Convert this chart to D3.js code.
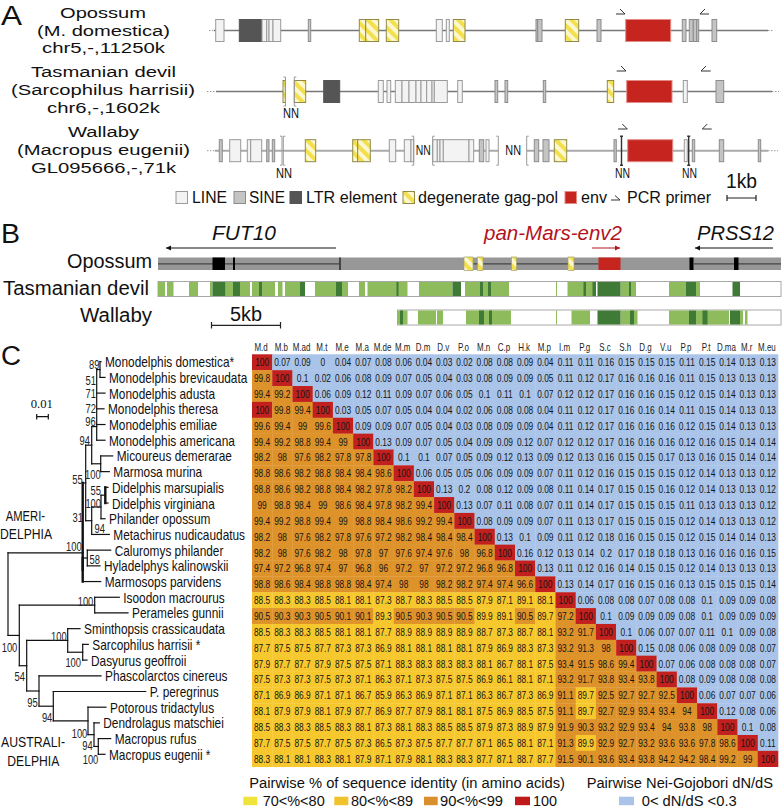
<!DOCTYPE html>
<html><head><meta charset="utf-8">
<script src="https://cdn.jsdelivr.net/npm/d3@7"></script>
<style>html,body{margin:0;padding:0;background:#fff}svg{display:block}</style>
</head><body><div id="chart"></div>
<script>
// ---------- Panel C matrix data ----------
const species = ["M.d","M.b","M.ad","M.t","M.e","M.a","M.de","M.m","D.m","D.v","P.o","M.n","C.p","H.k","M.p","I.m","P.g","S.c","S.h","D.g","V.u","P.p","P.t","D.ma","M.r","M.eu"];
const pairwiseRows = [
[100,.07,.09,0,.04,.07,.08,.06,.04,.03,.02,.08,.08,.09,.04,.11,.11,.16,.15,.15,.15,.11,.15,.14,.13,.13],
[99.8,100,.1,.02,.06,.08,.09,.07,.05,.04,.03,.08,.09,.09,.05,.11,.12,.17,.16,.16,.16,.11,.15,.13,.13,.13],
[99.4,99.2,100,.06,.09,.12,.11,.09,.07,.06,.05,.1,.11,.1,.07,.12,.12,.17,.16,.16,.15,.12,.15,.14,.13,.13],
[100,99.8,99.4,100,.03,.05,.07,.05,.04,.04,.02,.06,.08,.08,.04,.11,.12,.17,.16,.16,.14,.11,.15,.14,.13,.13],
[99.6,99.4,99,99.6,100,.09,.09,.07,.05,.04,.03,.08,.09,.09,.04,.11,.12,.17,.16,.16,.16,.12,.15,.14,.13,.13],
[99.4,99.2,98.8,99.4,99,100,.13,.09,.07,.05,.04,.09,.09,.12,.07,.12,.12,.17,.16,.16,.16,.12,.16,.15,.14,.14],
[98.2,98,97.6,98.2,97.8,97.8,100,.1,.1,.07,.05,.09,.12,.13,.09,.12,.13,.16,.15,.15,.17,.13,.16,.15,.14,.14],
[98.8,98.6,98.2,98.8,98.4,98.4,98.6,100,.06,.05,.05,.06,.09,.09,.07,.11,.12,.16,.15,.15,.15,.12,.14,.13,.13,.12],
[98.8,98.6,98.2,98.8,98.4,98.2,97.8,98.2,100,.13,.2,.08,.12,.09,.08,.11,.14,.17,.15,.15,.16,.12,.14,.13,.13,.12],
[99,98.8,98.4,99,98.6,98.4,97.8,98.2,99.4,100,.13,.07,.11,.08,.07,.11,.14,.17,.15,.15,.15,.11,.13,.13,.13,.12],
[99.4,99.2,98.8,99.4,99,98.8,98.4,98.6,99.2,99.4,100,.08,.09,.09,.07,.11,.13,.17,.15,.15,.15,.12,.14,.13,.13,.12],
[98.2,98,97.6,98.2,97.8,97.6,97.2,98.2,98.4,98.4,98.4,100,.13,.1,.09,.11,.12,.18,.16,.15,.15,.12,.15,.14,.14,.13],
[98.2,98,97.6,98.2,98,97.8,97,97.6,97.4,97.6,98,96.8,100,.16,.12,.13,.14,.2,.17,.18,.18,.13,.16,.16,.16,.15],
[97.4,97.2,96.8,97.4,97,96.8,96,97.2,97,97.2,97.2,96.8,96.8,100,.13,.11,.12,.16,.14,.15,.15,.12,.14,.13,.13,.13],
[98.8,98.6,98.4,98.8,98.8,98.4,97.4,98,98,98.2,98.2,97.4,97.4,96.6,100,.13,.14,.17,.16,.15,.16,.13,.15,.15,.15,.14],
[88.5,88.3,88.3,88.5,88.1,88.1,87.3,88.7,88.3,88.5,88.5,87.9,87.1,89.1,88.1,100,.06,.08,.08,.07,.08,.08,.1,.09,.09,.08],
[90.5,90.3,90.3,90.5,90.1,90.1,89.3,90.5,90.3,90.5,90.5,89.9,89.1,90.5,89.7,97.2,100,.1,.09,.09,.09,.08,.1,.09,.09,.09],
[88.5,88.3,88.3,88.5,88.1,88.1,87.7,88.9,88.9,88.9,88.9,88.7,87.3,88.7,88.1,93.2,91.7,100,.1,.06,.07,.07,.11,.1,.09,.08],
[87.7,87.5,87.5,87.7,87.3,87.3,86.9,88.1,88.1,88.1,88.1,87.9,86.9,88.3,87.3,93.2,91.3,98,100,.15,.08,.06,.08,.09,.08,.07],
[87.9,87.7,87.7,87.9,87.5,87.5,87.1,88.3,88.3,88.3,88.3,88.1,86.7,88.1,87.5,93.4,91.5,98.6,99.4,100,.07,.06,.08,.08,.08,.07],
[87.5,87.3,87.3,87.5,87.3,87.1,86.3,87.1,87.3,87.5,87.5,86.9,86.1,88.1,87.1,93.2,91.7,93.8,93.4,93.8,100,.08,.09,.08,.08,.08],
[87.1,86.9,86.9,87.1,87.1,86.7,85.9,86.3,86.9,87.1,87.1,86.3,86.7,87.3,86.9,91.1,89.7,92.5,92.7,92.7,92.5,100,.06,.07,.07,.06],
[88.1,87.9,87.9,88.1,87.9,87.7,86.9,87.7,87.9,88.1,88.1,87.5,86.9,88.5,87.5,91.1,89.7,92.7,92.9,93.4,93.4,94,100,.12,.08,.06],
[88.5,88.3,88.3,88.5,88.3,88.1,87.3,88.1,88.3,88.5,88.5,87.9,87.3,88.9,87.9,91.9,90.3,93.2,92.9,93.4,94,93.8,98,100,.1,.08],
[87.7,87.5,87.5,87.7,87.5,87.3,86.5,87.3,87.5,87.7,87.7,87.1,86.5,88.1,87.1,91.3,89.9,92.9,92.7,93.2,93.6,93.6,97.8,98.6,100,.11],
[88.3,88.1,88.1,88.3,88.1,87.9,87.1,87.9,88.1,88.3,88.3,87.7,87.1,88.7,87.7,91.5,90.1,93.6,93.4,93.8,94.2,94.2,98.4,99.2,99,100]
];

// ---------- Panel C tree data: id, parent, cumulative divergence (1160 units = 0.1 subst/site) ----------
const treeIds = ["root","ameri","cladeB","cladeN1","mono","mono1","Monodelphis domestica*","Monodelphis brevicaudata","Monodelphis adusta","Monodelphis theresa","Monodelphis emiliae","Monodelphis americana","marmo","Micoureus demerarae","Marmosa murina","cladeN2","cladeN3","didel","Didelphis marsupialis","Didelphis virginiana","Philander opossum","Metachirus nudicaudatus","ameri2","calu","Caluromys philander","Hyladelphys kalinowskii","Marmosops parvidens","austral","peram","Isoodon macrourus","Perameles gunnii","cladeN5","dasy","Sminthopsis crassicaudata","dasy2","Sarcophilus harrisii *","Dasyurus geoffroii","dipro","Phascolarctos cinereus","dipro2","P. peregrinus","macro","Potorous tridactylus","macro2","Dendrolagus matschiei","macro3","Macropus rufus","Macropus eugenii *"];
const treeParents = [null,"root","ameri","cladeB","cladeN1","mono","mono1","mono1","mono","mono","mono","mono","cladeN1","marmo","marmo","cladeB","cladeN2","cladeN3","didel","didel","cladeN3","cladeN2","ameri","ameri2","calu","calu","ameri2","root","austral","peram","peram","austral","cladeN5","dasy","dasy","dasy2","dasy2","cladeN5","dipro","dipro","dipro2","dipro2","macro","macro","macro2","macro2","macro3","macro3"];
const treeDepths = [0,74.7,77.7,83.7,88.7,92,93,97,97,96,97,97,92.7,104.7,101.3,83.7,93,97.3,100,100,97,101.3,74.7,79.3,102.7,92,92.7,11.3,86.7,111.3,120,18.7,59.7,72,74.7,80.3,79,31,93,45.3,137.7,80,98,86,91.3,90.3,102.7,97];
const treeRowOverride = {ameri:12.17, mono:4.13};
const treeThick = ["ameri","ameri2","didel"];
const supportLabels = [["89",99.5,364],["51",96,380],["71",96,393],["72",96,408],["96",95.7,421],["94",90,440],["55",82.7,479.3],["100",100.7,474],["55",101,490],["100",101,503],["31",83,517],["94",105,528],["100",81.7,546.7],["58",100,559],["100",93.3,601],["100",17.3,647.3],["100",66.7,636],["100",81,662],["54",25,676.7],["95",37.7,702],["94",52.3,717.3],["100",87.3,733],["94",92.7,745],["100",98.3,759]];

// ---------- Panel A data: element type, start, end (locus units, 29 units = 1 kb) ----------
const opossumElements = [["LINE",1.7,10],["LTR",25.3,48],["LINE",48,52.7],["LINE",52.7,55],["LINE",55,59],["LINE",59,66.7],["SINE",94.3,96.7],["GAG",145.3,151.7],["GAG",151.7,164.7],["GAG",172.3,184.7],["LINE",222.3,228.3],["LINE",232.3,235.3],["GAG",239.3,251],["SINE",322,323.7],["SINE",323.7,328],["GAG",351.3,364.7],["SINE",383,387],["ENV",411.7,456.7],["SINE",468.3,472],["SINE",475.3,479.3],["SINE",479.3,482.7],["SINE",482.7,484.7],["SINE",498,502.7]];
const devilElements = [["GAG",69,71.3],["GAG",80.3,91.7],["LTR",109.7,125.7],["LINE",164.3,169.3],["LINE",173,176.7],["LINE",181.3,188],["LINE",188,195],["LINE",195,202],["LINE",202,207],["LINE",207,212.7],["LINE",212.7,218],["LINE",218,220.3],["LINE",220.3,233.3],["LINE",243.7,248.3],["SINE",281,283.7],["SINE",291,293.7],["SINE",329.3,331.7],["GAG",393.3,399.7],["ENV",412.7,458],["LINE",469.3,473.3],["SINE",502,509.7]];
const wallabyElements = [["SINE",5.3,8.3],["LINE",15.7,26.7],["LINE",33.3,36.7],["LINE",36.7,47.7],["SINE",52.7,55],["SINE",58.3,60.7],["GAG",91.3,101.7],["GAG",138.7,143.7],["GAG",143.7,156.3],["LINE",175.3,181.7],["LINE",190.3,197],["LINE",197,199.7],["LINE",218.7,223.3],["LINE",223.3,226],["LINE",226,229.3],["LINE",229.3,255],["LINE",255,259.7],["SINE",265.3,269.7],["LINE",272,275],["SINE",320.3,324.7],["SINE",329,335],["GAG",340.3,352.7],["SINE",400,402.3],["ENV",413.7,458.7],["LINE",470.3,473.3],["SINE",478.3,480.7],["SINE",505.3,509.7],["SINE",544.3,546.7]];
const opossumSpans = [[0,554]];
const devilSpans = [[2,71.3],[80.3,558]];
const wallabySpans = [[1,199.7],[218.7,284.3],[312.7,554]];
const opossumDots = [[-5,0],[554,559]];
const devilDots = [[-7,2],[558,565]];
const wallabyDots = [[-7,1],[554,564]];
const devilBrackets = [[71.5,"]"],[80.3,"["]];
const wallabyBrackets = [[68,"]"],[69.3,"["],[199.7,"]"],[218.7,"["],[284.3,"]"],[312.7,"["],[407.5,"I"],[474.7,"I"]];
const opossumPrimers = [402,411,486,495];
const devilPrimers = [402.7,412,487,496.7];
const wallabyPrimers = [404,413.3,488.3,497.7];

// ---------- Panel B data: alignment bins (138 bins = 5 kb) ----------
const opossumBackbone = [[316,680],[946,1197],[1388,1562]];
const opossumExons = [[425,450],[466,470],[678,682],[1379,1387],[1468,1477]];
const opossumGag = [[928,946],[955,966],[1023,1033],[1136,1148]];
const opossumEnv = [[1197,1241]];
const devilLight = [[316,330],[334,347],[378,396],[420,425],[451,466],[480,500],[504,518],[524,550],[556,565],[570,600],[630,672],[684,696],[718,730],[735,815],[838,905],[930,1018],[1112,1114],[1135,1192],[1241,1272],[1338,1372],[1392,1400]];
const devilDark = [[425,451],[466,480],[518,524],[600,610],[672,684],[793,797],[905,922],[960,966],[976,982],[1167,1172],[1185,1192],[1195,1241],[1258,1262],[1372,1392],[1465,1480]];
const wallabyLight = [[795,815],[836,872],[874,886],[932,1022],[1112,1114],[1143,1180],[1241,1275],[1338,1378],[1392,1458],[1480,1486],[1490,1495]];
const wallabyDark = [[800,806],[958,968],[978,984],[1195,1241],[1260,1268],[1378,1392],[1405,1415],[1460,1480]];

// ---------- Legend text ----------
const identityLegend = ["70<%<80","80<%<89","90<%<99","100"];
const dndsLegend = ["0< dN/dS <0.3"];

const W = 782, H = 810;
const SANS = "'Liberation Sans',Arial,sans-serif";
const svg = d3.select("#chart").append("svg").attr("width",W).attr("height",H).attr("viewBox",`0 0 ${W} ${H}`);
svg.append("rect").attr("width",W).attr("height",H).attr("fill","#fff");

const defs = svg.append("defs");
const pat = defs.append("pattern").attr("id","gag").attr("patternUnits","userSpaceOnUse")
  .attr("width",8).attr("height",8).attr("patternTransform","rotate(45)");
pat.append("rect").attr("width",8).attr("height",8).attr("fill","#fbf7d0");
pat.append("rect").attr("width",8).attr("height",4).attr("fill","#f3e04c");

function fit(x0,x1,y,str,size,o={}){
  return svg.append("text").attr("x",x0).attr("y",y).text(str)
    .attr("textLength",x1-x0).attr("lengthAdjust","spacingAndGlyphs")
    .style("font-family",o.family||SANS).style("font-size",size+"px")
    .style("font-style",o.italic?"italic":"normal").attr("fill",o.fill||"#111");
}
function condense(sel,k){
  sel.each(function(){
    const len = this.getComputedTextLength();
    d3.select(this).attr("textLength",len*k).attr("lengthAdjust","spacingAndGlyphs");
  });
}

// ====== Panel A ======
fit(1,22,25,"A",27);
[[60,146,17.5,"Opossum"],[37,170,35.5,"(M. domestica)"],[42,165,53,"chr5,-,11250k"],
 [31,176,77,"Tasmanian devil"],[11,195,95,"(Sarcophilus harrisii)"],[47,160,112.5,"chr6,-,1602k"],
 [68,139,137,"Wallaby"],[17,190,155,"(Macropus eugenii)"],[31,176,173,"GL095666,-,71k"]]
 .forEach(d=>fit(d[0],d[1],d[2],d[3],15.5));

const xA = d3.scaleLinear().domain([0,560]).range([214,774]);
const elementStyle = {
  LINE:{fill:"#f3f3f3",stroke:"#9a9a9a"},
  SINE:{fill:"#c4c4c4",stroke:"#8c8c8c"},
  LTR:{fill:"#555555",stroke:"#555555"},
  GAG:{fill:"url(#gag)",stroke:"#8f8a4a"},
  ENV:{fill:"#c6241f",stroke:"#e48a84"}
};
function drawTrack(cy,elements,spans,dots,brackets,primers,lineStyle,primerY){
  const g = svg.append("g");
  g.selectAll("line.span").data(spans).join("line").attr("class","span").attr("x1",d=>xA(d[0])).attr("x2",d=>xA(d[1]))
    .attr("y1",cy).attr("y2",cy).attr("stroke",lineStyle.color).attr("stroke-width",lineStyle.width);
  g.selectAll("line.dot").data(dots).join("line").attr("class","dot").attr("x1",d=>xA(d[0])).attr("x2",d=>xA(d[1]))
    .attr("y1",cy).attr("y2",cy).attr("stroke","#999").attr("stroke-width",1).attr("stroke-dasharray","1.5 1.5");
  g.selectAll("rect").data(elements).join("rect")
    .attr("x",d=>xA(d[1])).attr("width",d=>xA(d[2])-xA(d[1]))
    .attr("y",cy-11).attr("height",22)
    .attr("fill",d=>elementStyle[d[0]].fill).attr("stroke",d=>elementStyle[d[0]].stroke).attr("stroke-width",1);
  const by0=cy-14.5, by1=cy+14.5;
  g.selectAll("path.br").data(brackets).join("path").attr("class","br").attr("fill","none")
    .attr("stroke",d=>d[1]==="I"?"#333":"#999").attr("stroke-width",d=>d[1]==="I"?1.4:1)
    .attr("d",d=>{const x=xA(d[0]);
      if(d[1]==="]") return `M${x-2},${by0}H${x}V${by1}H${x-2}`;
      if(d[1]==="[") return `M${x+2},${by0}H${x}V${by1}H${x+2}`;
      return `M${x-1.5},${by0}H${x+1.5}M${x},${by0}V${by1}M${x-1.5},${by1}H${x+1.5}`;});
  const p = d3.path();
  p.moveTo(xA(primers[0]),primerY);p.lineTo(xA(primers[1]),primerY);p.lineTo(xA(primers[1])-5,primerY-5);
  p.moveTo(xA(primers[3]),primerY);p.lineTo(xA(primers[2]),primerY);p.lineTo(xA(primers[2])+5,primerY-5);
  g.append("path").attr("d",p.toString()).attr("fill","none").attr("stroke","#333").attr("stroke-width",1);
}
drawTrack(30.5,opossumElements,opossumSpans,opossumDots,[],opossumPrimers,{color:"#777",width:1.3},14);
drawTrack(91.5,devilElements,devilSpans,devilDots,devilBrackets,devilPrimers,{color:"#777",width:1.3},71);
drawTrack(150.7,wallabyElements,wallabySpans,wallabyDots,wallabyBrackets,wallabyPrimers,{color:"#aaa",width:2},129);
[[283,299,118],[276,292,178],[415.7,430.7,155],[505.3,521,155],[615,630,178],[682,697,178]]
 .forEach(d=>fit(d[0],d[1],d[2],"NN",14));

// Panel A legend
[[176,"LINE"],[234,"SINE"],[290,"LTR"],[403,"GAG"],[565,"ENV"]].forEach(d=>{
  svg.append("rect").attr("x",d[0]).attr("y",191.5).attr("width",11.5).attr("height",12)
   .attr("fill",elementStyle[d[1]].fill).attr("stroke",elementStyle[d[1]].stroke);
});
[[192,227,"LINE"],[249,285,"SINE"],[306,397,"LTR element"],[418,558,"degenerate gag-pol"],[581,607,"env"],[627,711,"PCR primer"]]
 .forEach(d=>fit(d[0],d[1],202.5,d[2],16));
svg.append("path").attr("d","M611,200H620L615,195.5").attr("fill","none").attr("stroke","#333");
fit(726,757,188,"1kb",20);
const kbScale = xA(29)-xA(0);
svg.append("path").attr("d",`M727,195V201M727,198H${727+kbScale}M${727+kbScale},195V201`).attr("fill","none").attr("stroke","#222").attr("stroke-width",1.2);

// ====== Panel B ======
fit(1,20,243,"B",27);
const xB = d3.scaleLinear().domain([316,1562]).range([158,781]);
fit(212,276,240,"FUT10",21,{italic:true});
fit(484,622,240,"pan-Mars-env2",20.5,{italic:true,fill:"#b3131d"});
fit(697,774,240,"PRSS12",20,{italic:true});
function arrow(x0,x1,y,c,left){
  svg.append("line").attr("x1",x0).attr("x2",x1).attr("y1",y).attr("y2",y).attr("stroke",c).attr("stroke-width",1);
  const t = left?x0:x1, s = left?1:-1;
  svg.append("path").attr("d",`M${t},${y}L${t+5*s},${y-2.5}V${y+2.5}Z`).attr("fill",c);
}
arrow(166,336,248,"#111",true);
arrow(592,620,248,"#b3131d",false);
arrow(695,773,248,"#111",true);
fit(67,152,268,"Opossum",20);
fit(3,149,295,"Tasmanian devil",20);
fit(80,152,322,"Wallaby",20);
const bO = svg.append("g");
bO.append("rect").attr("x",xB(316)).attr("width",xB(1562)-xB(316)).attr("y",257.5).attr("height",12.5).attr("fill","#979797");
bO.selectAll("line").data(opossumBackbone).join("line").attr("x1",d=>xB(d[0])).attr("x2",d=>xB(d[1]))
  .attr("y1",263.8).attr("y2",263.8).attr("stroke","#444").attr("stroke-width",1.2);
bO.selectAll("rect.ex").data(opossumExons).join("rect").attr("class","ex").attr("x",d=>xB(d[0])).attr("width",d=>xB(d[1])-xB(d[0]))
  .attr("y",257.5).attr("height",12.5).attr("fill",d=>d[0]===678?"#444":"#000");
bO.selectAll("rect.g").data(opossumGag).join("rect").attr("class","g").attr("x",d=>xB(d[0])).attr("width",d=>xB(d[1])-xB(d[0]))
  .attr("y",257).attr("height",13.5).attr("fill","url(#gag)").attr("stroke","#a5a06a").attr("stroke-width",.7);
bO.selectAll("rect.e").data(opossumEnv).join("rect").attr("class","e").attr("x",d=>xB(d[0])).attr("width",d=>xB(d[1])-xB(d[0]))
  .attr("y",257.5).attr("height",12.5).attr("fill","#c6241f");
function conservation(y,h,x0,light,dark){
  const g = svg.append("g");
  g.append("rect").attr("x",xB(x0)).attr("y",y).attr("width",xB(1562)-xB(x0)).attr("height",h)
    .attr("fill","#fff").attr("stroke","#a8a8a8").attr("stroke-width",1);
  g.selectAll("rect.l").data(light).join("rect").attr("class","l").attr("x",d=>xB(d[0])).attr("width",d=>xB(d[1])-xB(d[0]))
    .attr("y",y+.5).attr("height",h-1).attr("fill","#8ebb5b");
  const gd = svg.append("g");
  gd.selectAll("rect").data(dark).join("rect").attr("x",d=>xB(d[0])).attr("width",d=>xB(d[1])-xB(d[0]))
    .attr("y",y+.5).attr("height",h-1).attr("fill","#3f7a37");
}
conservation(281.5,15,316,devilLight,devilDark);
conservation(310,15,795,wallabyLight,wallabyDark);
fit(230,262,321,"5kb",20);
svg.append("path").attr("d",`M${xB(423)},322V328.5M${xB(423)},325.3H${xB(561)}M${xB(561)},322V328.5`).attr("fill","none").attr("stroke","#222").attr("stroke-width",1.2);

// ====== Panel C ======
fit(1,21,365,"C",27);
const rows = d3.range(species.length);
const xM = d3.scaleBand().domain(species).range([252,778]);
const yM = d3.scaleBand().domain(rows).range([354.3,766.7]);
const identityColor = d3.scaleThreshold().domain([80,90,100]).range(["#f2e33b","#f7c82e","#de922a","#c1201f"]);
const DNDS = "#a9c4e8";
const cells = rows.flatMap(r=>species.map((s,c)=>({r,c,s,v:pairwiseRows[r][c]})));
const mat = svg.append("g");
mat.selectAll("rect").data(cells).join("rect")
  .attr("x",d=>xM(d.s)).attr("y",d=>yM(d.r)).attr("width",xM.bandwidth()+.3).attr("height",yM.bandwidth()+.3)
  .attr("fill",d=>d.c>d.r?DNDS:identityColor(d.v));
const cellText = mat.selectAll("text").data(cells).join("text")
  .attr("x",d=>xM(d.s)+xM.bandwidth()/2).attr("y",d=>yM(d.r)+yM.bandwidth()/2+4)
  .attr("text-anchor","middle").style("font-family",SANS).style("font-size","11px").attr("fill","#151515")
  .text(d=>d3.format("")(d.v));
condense(cellText,.76);
const axis = svg.append("g").attr("transform","translate(-1,351)").call(d3.axisTop(xM).tickSize(0).tickPadding(0));
axis.select(".domain").remove();
axis.selectAll("text").style("font-family",SANS).style("font-size","10.5px").attr("fill","#222");
condense(axis.selectAll("text"),.76);

// Tree
const table = treeIds.map((id,i)=>({id,parent:treeParents[i],depth:treeDepths[i]}));
const tree = d3.stratify().id(d=>d.id).parentId(d=>d.parent)(table);
const xT = d3.scaleLinear().domain([0,150]).range([8,158]);
const leafY = d3.scalePoint().domain(tree.leaves().map(d=>d.id)).range([361.7,754.3]);
const rowUnit = (754.3-361.7)/25;
tree.eachAfter(n=>{
  if(!n.children) n.yy = leafY(n.id);
  else if(treeRowOverride[n.id]!==undefined) n.yy = 361.7+treeRowOverride[n.id]*rowUnit;
  else n.yy = (n.children[0].yy+n.children[n.children.length-1].yy)/2;
});
const gT = svg.append("g").attr("fill","none").attr("stroke","#111").attr("stroke-linecap","square");
tree.descendants().forEach(n=>{
  if(n.parent) gT.append("line").attr("x1",xT(n.parent.data.depth)).attr("x2",xT(n.data.depth)).attr("y1",n.yy).attr("y2",n.yy).attr("stroke-width",1.2);
  if(n.children){
    const ys = n.children.map(c=>c.yy);
    gT.append("line").attr("x1",xT(n.data.depth)).attr("x2",xT(n.data.depth)).attr("y1",d3.min(ys)).attr("y2",d3.max(ys))
      .attr("stroke-width",treeThick.includes(n.id)?2.4:1.2);
  }
});
const leafText = svg.append("g").selectAll("text").data(tree.leaves()).join("text")
  .attr("x",d=>xT(d.data.depth)+4).attr("y",d=>d.yy+5.5).text(d=>d.id)
  .style("font-family",SANS).style("font-size","15px").attr("fill","#111");
condense(leafText,.79);
const supText = svg.append("g").selectAll("text").data(supportLabels).join("text")
  .attr("x",d=>d[1]).attr("y",d=>d[2]+4.5).attr("text-anchor","end").text(d=>d[0])
  .style("font-family",SANS).style("font-size","12px").attr("fill","#222");
condense(supText,.78);
fit(30.7,53,408,"0.01",13.5,{family:"'Liberation Serif',serif"});
svg.append("path").attr("d","M36.7,414V419.5M36.7,416.7H48.3M48.3,414V419.5").attr("fill","none").attr("stroke","#111").attr("stroke-width",1.2);
fit(5.7,45,521,"AMERI-",14);
fit(0,52,539,"DELPHIA",14);
fit(1,65,747,"AUSTRALI-",14);
fit(7.3,59.3,766,"DELPHIA",14);

// Bottom legends
fit(249.3,565,788,"Pairwise % of sequence identity (in amino acids)",14);
fit(586.7,773,788,"Pairwise Nei-Gojobori dN/dS",14);
const swatchIdentity = [[243.3,257.3,"#f0e43c"],[334.3,348.3,"#f0c22c"],[424,437.7,"#d98f2e"],[515,530,"#c0191c"]];
swatchIdentity.forEach(d=>svg.append("rect").attr("x",d[0]).attr("y",796.7).attr("width",d[1]-d[0]).attr("height",8.5).attr("fill",d[2]));
[[262.7,324.7],[351,413],[440,503],[533,557]].forEach((d,i)=>fit(d[0],d[1],806,identityLegend[i],14));
svg.append("rect").attr("x",619).attr("y",796.7).attr("width",15).attr("height",8.5).attr("fill","#a9c4e8");
fit(641.7,736.7,806,dndsLegend[0],14);
</script></body></html>
